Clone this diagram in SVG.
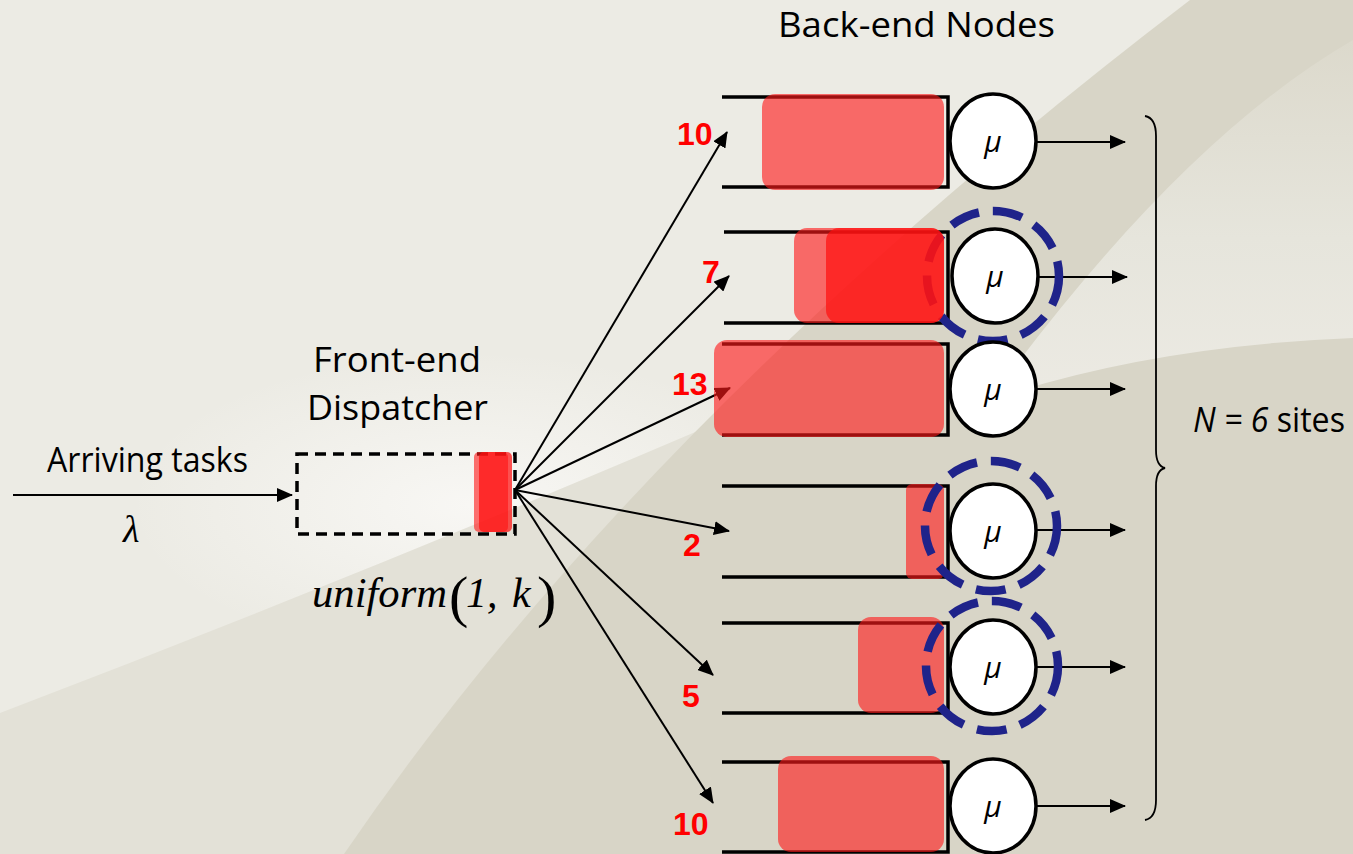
<svg xmlns="http://www.w3.org/2000/svg" width="1353" height="854" viewBox="0 0 1353 854">
  <defs>
    <style>
      .lbl { font-family: "Open Sans", "Liberation Sans", sans-serif; font-size: 35px; fill: #000; }
      .num { font-family: "Liberation Sans", Arial, sans-serif; font-weight: bold; font-size: 32px; fill: #ff0000; }
      .mu { font-family: "Open Sans", "Liberation Sans", sans-serif; font-style: italic; font-size: 30px; fill: #000; text-anchor: middle; }
      .math { font-family: "Liberation Serif", "Times New Roman", serif; font-style: italic; fill: #000; }
      .paren { font-family: "Liberation Serif", "Times New Roman", serif; font-style: normal; font-size: 58px; fill: #000; }
      .qline { stroke: #000; stroke-width: 3.5; fill: none; }
      .task { fill: #ff1a1a; fill-opacity: 0.62; }
      .task2 { fill: #ff1010; fill-opacity: 0.72; }
      .server { fill: #fff; stroke: #000; stroke-width: 3.5; }
      .idle { fill: none; stroke: #1f238a; stroke-width: 8.5; stroke-dasharray: 30 14; }
      .edge { stroke: #000; stroke-width: 2; fill: none; }
    </style>
    <marker id="head" viewBox="0 0 16 14" refX="15" refY="7" markerWidth="16" markerHeight="14" markerUnits="userSpaceOnUse" orient="auto">
      <path d="M0 0 L16 7 L0 14 Z" fill="#000"/>
    </marker>
    <linearGradient id="swoosh" x1="0" y1="0" x2="0" y2="1">
      <stop offset="0" stop-color="#dcd9cc"/>
      <stop offset="0.55" stop-color="#e6e5dc"/>
      <stop offset="1" stop-color="#eceae3"/>
    </linearGradient>
    <radialGradient id="glow" cx="470" cy="505" r="340" gradientUnits="userSpaceOnUse" gradientTransform="translate(470 505) scale(1 0.45) rotate(-18) translate(-470 -505)">
      <stop offset="0" stop-color="#f8f7f4" stop-opacity="1"/>
      <stop offset="1" stop-color="#f8f7f4" stop-opacity="0"/>
    </radialGradient>
  </defs>

  <!-- backdrop -->
  <g id="backdrop">
    <rect x="0" y="0" width="1353" height="854" fill="#ecebe4"/>
    <rect x="0" y="300" width="900" height="420" fill="url(#glow)"/>
    <path d="M0 713 Q 400 560 770 400 L 770 854 L 0 854 Z" fill="#e3e1d7"/>
    <path d="M344 854 Q 640 420 1190 0 L 1353 0 L 1353 854 Z" fill="#d8d5c7"/>
    <path d="M990 400 Q 1150 346 1353 338 L 1353 40 Q 1180 140 990 400 Z" fill="url(#swoosh)"/>
  </g>

  <!-- connectors -->
  <g id="connectors">
    <line class="edge" x1="13" y1="495" x2="292" y2="495" marker-end="url(#head)"/>
    <line class="edge" x1="515" y1="490" x2="727" y2="132" marker-end="url(#head)"/>
    <line class="edge" x1="515" y1="490" x2="729" y2="276" marker-end="url(#head)"/>
    <line class="edge" x1="515" y1="490" x2="730" y2="388" marker-end="url(#head)"/>
    <line class="edge" x1="515" y1="490" x2="729" y2="531" marker-end="url(#head)"/>
    <line class="edge" x1="515" y1="490" x2="713" y2="675" marker-end="url(#head)"/>
    <line class="edge" x1="515" y1="490" x2="713" y2="803" marker-end="url(#head)"/>
    <line class="edge" x1="1036" y1="142" x2="1125" y2="142" marker-end="url(#head)"/>
    <line class="edge" x1="1038" y1="277" x2="1127" y2="277" marker-end="url(#head)"/>
    <line class="edge" x1="1036" y1="389" x2="1125" y2="389" marker-end="url(#head)"/>
    <line class="edge" x1="1036" y1="530" x2="1125" y2="530" marker-end="url(#head)"/>
    <line class="edge" x1="1036" y1="667" x2="1125" y2="667" marker-end="url(#head)"/>
    <line class="edge" x1="1036" y1="806" x2="1125" y2="806" marker-end="url(#head)"/>
  </g>

  <!-- front-end dispatcher -->
  <g id="dispatcher">
    <rect x="297" y="454" width="218" height="80" fill="none" stroke="#000" stroke-width="3.5" stroke-dasharray="11 7"/>
    <rect class="task" x="474" y="452" width="34" height="80" rx="5"/>
    <rect class="task2" x="479" y="452" width="33" height="80" rx="5"/>
  </g>

  <!-- back-end node 1 -->
  <g id="node1">
    <path class="qline" d="M722 97 H948 V187 H722"/>
    <rect class="task" x="762" y="94" width="182" height="96" rx="13"/>
    <ellipse class="server" cx="993" cy="141" rx="43" ry="47"/>
    <text class="mu" x="993" y="152">μ</text>
  </g>

  <!-- back-end node 2 -->
  <g id="node2">
    <path class="qline" d="M724 232 H948 V323 H724"/>
    <ellipse class="idle" cx="993" cy="276" rx="66" ry="65"/>
    <rect class="task" x="794" y="228" width="150" height="95" rx="13"/>
    <rect class="task2" x="826" y="228" width="118" height="95" rx="13"/>
    <ellipse class="server" cx="995" cy="276" rx="43" ry="47"/>
    <text class="mu" x="995" y="287">μ</text>
  </g>

  <!-- back-end node 3 -->
  <g id="node3">
    <path class="qline" d="M722 344 H948 V435 H722"/>
    <rect class="task" x="714" y="340" width="230" height="97" rx="13"/>
    <ellipse class="server" cx="993" cy="389" rx="43" ry="47"/>
    <text class="mu" x="993" y="400">μ</text>
  </g>

  <!-- back-end node 4 -->
  <g id="node4">
    <path class="qline" d="M722 486 H948 V577 H722"/>
    <rect class="task" x="906" y="484" width="38" height="95" rx="6"/>
    <ellipse class="idle" cx="991" cy="526" rx="66" ry="65"/>
    <ellipse class="server" cx="993" cy="531" rx="43" ry="47"/>
    <text class="mu" x="993" y="542">μ</text>
  </g>

  <!-- back-end node 5 -->
  <g id="node5">
    <path class="qline" d="M722 623 H948 V713 H722"/>
    <rect class="task" x="858" y="617" width="86" height="96" rx="13"/>
    <ellipse class="idle" cx="992" cy="666" rx="66" ry="65"/>
    <ellipse class="server" cx="993" cy="667" rx="43" ry="47"/>
    <text class="mu" x="993" y="678">μ</text>
  </g>

  <!-- back-end node 6 -->
  <g id="node6">
    <path class="qline" d="M722 762 H948 V852 H722"/>
    <rect class="task" x="778" y="756" width="166" height="96" rx="13"/>
    <ellipse class="server" cx="993" cy="806" rx="43" ry="47"/>
    <text class="mu" x="993" y="817">μ</text>
  </g>

  <!-- queue lengths -->
  <g id="lengths">
    <text class="num" x="677" y="145">10</text>
    <text class="num" x="702" y="283">7</text>
    <text class="num" x="672" y="395">13</text>
    <text class="num" x="683" y="556">2</text>
    <text class="num" x="682" y="707">5</text>
    <text class="num" x="673" y="835">10</text>
  </g>

  <!-- brace over the sites -->
  <g id="brace">
    <path d="M1145 116 Q1156 118 1156 136 L1156 450 Q1156 466 1165 468 Q1156 470 1156 486 L1156 800 Q1156 818 1145 820" fill="none" stroke="#000" stroke-width="1.8"/>
  </g>

  <!-- labels -->
  <g id="labels">
    <text class="lbl" x="778" y="37" textLength="277" lengthAdjust="spacingAndGlyphs">Back-end Nodes</text>
    <text class="lbl" x="313" y="372" textLength="168" lengthAdjust="spacingAndGlyphs">Front-end</text>
    <text class="lbl" x="307" y="420" textLength="181" lengthAdjust="spacingAndGlyphs">Dispatcher</text>
    <text class="lbl" x="47" y="472" font-size="32" textLength="201" lengthAdjust="spacingAndGlyphs">Arriving tasks</text>
    <text class="math" x="123" y="542" font-size="38">λ</text>
    <text class="math" x="312" y="607" font-size="42" textLength="135" lengthAdjust="spacingAndGlyphs">uniform</text>
    <text class="paren" x="449" y="616">(</text>
    <text class="math" x="466" y="607" font-size="42">1,</text>
    <text class="math" x="512" y="607" font-size="42">k</text>
    <text class="paren" x="537" y="616">)</text>
    <text class="lbl" x="1193" y="432" font-size="32" textLength="152" lengthAdjust="spacingAndGlyphs"><tspan font-style="italic">N = 6</tspan> sites</text>
  </g>
</svg>
